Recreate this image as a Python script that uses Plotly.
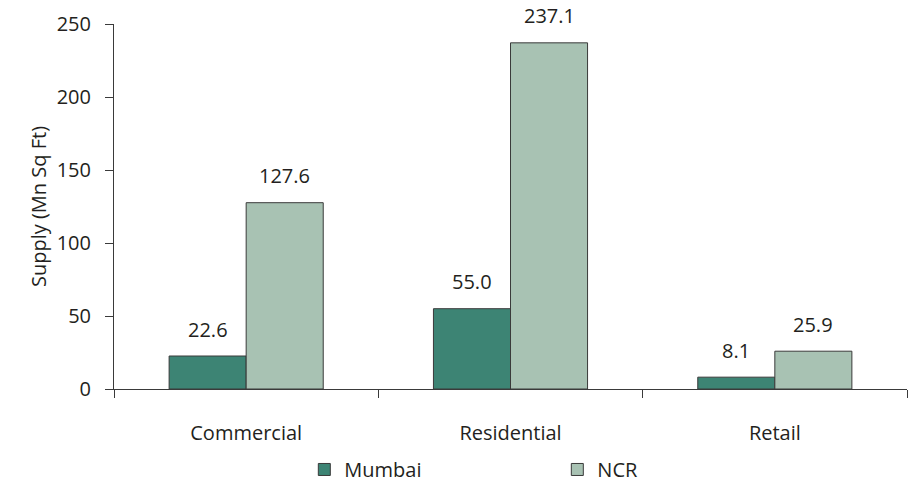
import plotly.graph_objects as go

categories = ["Commercial", "Residential", "Retail"]
mumbai = [22.6, 55.0, 8.1]
ncr = [127.6, 237.1, 25.9]
y_ticks = [0, 50, 100, 150, 200, 250]

FONT = "Open Sans, Noto Sans, sans-serif"
TXT = "#231f20"
EDGE = "#3a3a3a"
FS = 20

fig = go.Figure()
fig.add_trace(go.Bar(name="Mumbai", x=categories, y=mumbai,
                     marker=dict(color="#3d8474", line=dict(color=EDGE, width=1))))
fig.add_trace(go.Bar(name="NCR", x=categories, y=ncr,
                     marker=dict(color="#a8c2b3", line=dict(color=EDGE, width=1))))

# value labels above each bar
half = 0.583 / 4  # quarter of the group width, in category units
for i, c in enumerate(categories):
    for vals, off in ((mumbai, -half), (ncr, half)):
        fig.add_annotation(x=i + off, y=vals[i], xref="x", yref="y",
                           text=f"{vals[i]:.1f}", showarrow=False,
                           yanchor="middle", yshift=27,
                           font=dict(family=FONT, size=FS, color=TXT))

fig.update_layout(
    width=915, height=484,
    margin=dict(l=114, r=8, t=24, b=95, autoexpand=False),
    paper_bgcolor="white", plot_bgcolor="white",
    barmode="group", bargap=0.417, bargroupgap=0,
    font=dict(family=FONT, size=FS, color=TXT),
    showlegend=True,
    legend=dict(orientation="h", x=0.24, xanchor="left",
                yref="container", y=0.03, yanchor="middle",
                entrywidth=208, font=dict(family=FONT, size=FS, color=TXT),
                itemclick=False),
)
fig.update_xaxes(
    showline=True, linecolor=EDGE, linewidth=1,
    ticks="outside", tickson="boundaries", ticklen=8, tickcolor=EDGE,
    ticklabelstandoff=26, range=[-0.5, 2.5], showgrid=False,
)
fig.update_yaxes(
    range=[0, 250], tickvals=y_ticks, showline=True, linecolor=EDGE, linewidth=1,
    ticks="outside", ticklen=8, tickcolor=EDGE, showgrid=False, zeroline=False,
    ticklabelstandoff=10,
    title=dict(text="Supply (Mn Sq Ft)", standoff=4,
               font=dict(family=FONT, size=FS, color=TXT)),
)

fig.write_html("out.html")
